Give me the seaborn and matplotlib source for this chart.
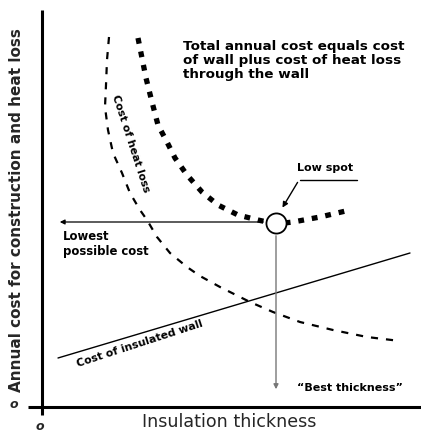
import numpy as np
import pandas as pd
import matplotlib
matplotlib.use("Agg")
import matplotlib.pyplot as plt
import seaborn as sns

# values (arbitrary units: thickness to the right, cost upward)
heat_x = [67, 65, 64, 63, 66, 71, 80, 88, 98, 105, 115, 128, 145, 158, 178, 208, 231, 258, 291, 325, 358]
heat_y = [370, 347, 322, 300, 277, 254, 234, 214, 197, 187, 170, 154, 140, 131, 120, 105, 95, 85, 77, 70, 66]

total_x = [96, 100, 104, 110, 116, 125, 133, 145, 160, 176, 196, 216, 234, 251, 278, 308]
total_y = [369, 349, 329, 305, 282, 265, 249, 232, 215, 202, 192, 187, 183, 185, 190, 197]

wall_x = [16, 368]
wall_y = [49, 154]

best_x = 234
best_y = 184

sns.set_theme(style="white")
plt.rcParams["font.family"] = ["DejaVu Sans"]

fig = plt.figure(figsize=(4.21, 4.34), dpi=100)
ax = fig.add_axes([0, 0, 1, 1])
ax.set_xlim(-42, 379)
ax.set_ylim(-27, 407)
ax.axis("off")

# axes drawn by hand like the sketch
ax.plot([0, 0], [-8, 397], color="black", lw=2.2, solid_capstyle="butt")
ax.plot([-14, 379], [0, 0], color="black", lw=2.2, solid_capstyle="butt")
ax.text(-28, 3, "o", fontsize=9, fontweight="bold", fontstyle="italic", ha="center", va="center")
ax.text(-2, -19, "o", fontsize=9, fontweight="bold", fontstyle="italic", ha="center", va="center")

heat = pd.DataFrame({"x": heat_x, "y": heat_y})
total = pd.DataFrame({"x": total_x, "y": total_y})
wall = pd.DataFrame({"x": wall_x, "y": wall_y})

sns.lineplot(data=heat, x="x", y="y", sort=False, ax=ax, color="black", lw=1.6,
             linestyle=(0, (3.2, 3.6)))
sns.lineplot(data=total, x="x", y="y", sort=False, ax=ax, color="black", lw=3.8,
             linestyle=(0, (1.1, 1.5)))
sns.lineplot(data=wall, x="x", y="y", sort=False, ax=ax, color="black", lw=1.0)

# lowest cost arrow (left) and best thickness arrow (down)
ax.annotate("", xy=(15, best_y + 1), xytext=(best_x - 10, best_y + 1),
            arrowprops=dict(arrowstyle="-|>", color="black", lw=0.9, mutation_scale=7))
ax.annotate("", xy=(best_x, 15), xytext=(best_x, best_y - 10),
            arrowprops=dict(arrowstyle="-|>", color="#777777", lw=1.0, mutation_scale=7))
ax.plot([best_x], [best_y], marker="o", ms=14.5, mfc="white", mec="black", mew=1.3, zorder=5)

# low spot label with pointer
ax.plot([258, 315], [227, 227], color="black", lw=1.0)
ax.annotate("", xy=(239, 197), xytext=(257, 227),
            arrowprops=dict(arrowstyle="-|>", color="black", lw=1.0, mutation_scale=8))

font = dict(fontweight="bold", color="black")
ax.text(283, 239, "Low spot", fontsize=8, ha="center", va="center", **font)
ax.text(141, 367, "Total annual cost equals cost\nof wall plus cost of heat loss\nthrough the wall",
        fontsize=9.7, ha="left", va="top", linespacing=1.1, **font)
ax.text(21, 163, "Lowest\npossible cost", fontsize=8.4, ha="left", va="center", linespacing=1.2, **font)
ax.text(89, 263, "Cost of heat loss", fontsize=7.8, rotation=-72, ha="center", va="center",
        rotation_mode="anchor", **font)
ax.text(98, 63, "Cost of insulated wall", fontsize=7.8, rotation=18, ha="center", va="center",
        rotation_mode="anchor", **font)
ax.text(308, 19, "\u201cBest thickness\u201d", fontsize=8, ha="center", va="center", **font)

ax.text(-25, 197, "Annual cost for construction and heat loss", fontsize=11, fontweight="bold",
        rotation=90, ha="center", va="center")
ax.text(187, -15, "Insulation thickness", fontsize=12.6, fontweight="medium", ha="center", va="center")

fig.savefig("out.png", dpi=100)
